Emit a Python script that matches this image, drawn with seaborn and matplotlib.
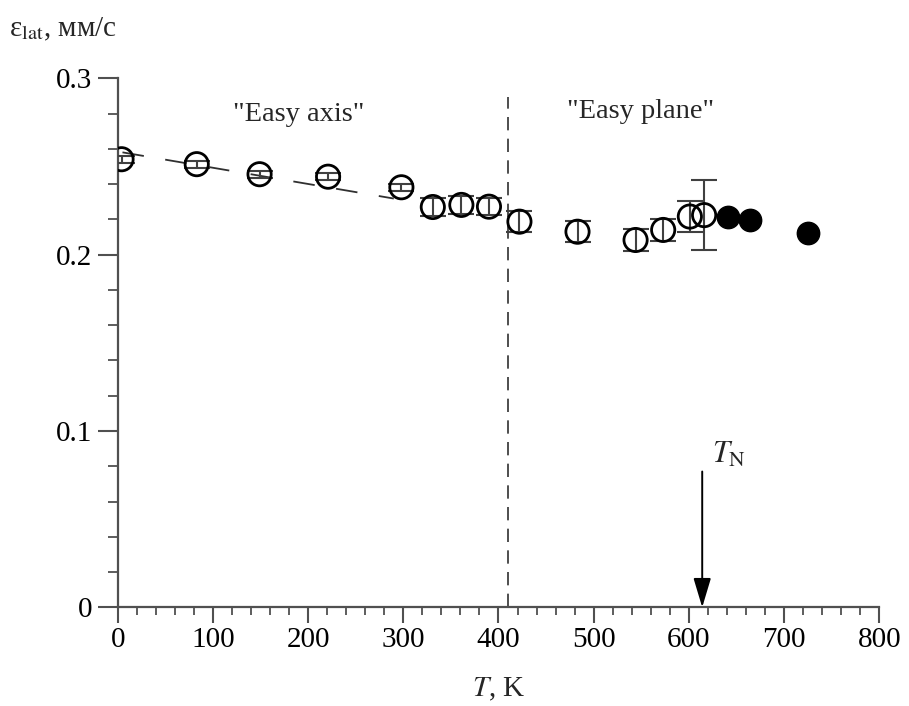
import matplotlib
matplotlib.use("Agg")
import matplotlib.pyplot as plt
import seaborn as sns
import pandas as pd
from matplotlib.ticker import MultipleLocator

# ---- data ----
T_open = [4, 83, 149, 221, 298, 331, 361, 390, 422, 483, 544, 573, 601, 616]
eps_open = [0.2541, 0.2513, 0.2456, 0.2442, 0.2382, 0.2270, 0.2282, 0.2272,
            0.2187, 0.2130, 0.2083, 0.2140, 0.2216, 0.2224]
err_open = [0.002, 0.002, 0.002, 0.002, 0.002, 0.005, 0.005, 0.005,
            0.006, 0.006, 0.006, 0.006, 0.009, 0.020]

T_filled = [641, 664, 725]
eps_filled = [0.2212, 0.2197, 0.2125]

trend_T = [5, 290]
trend_eps = [0.2580, 0.2318]

T_boundary = 410
T_N = 614

x_ticks = [0, 100, 200, 300, 400, 500, 600, 700, 800]
y_ticks = [0, 0.1, 0.2, 0.3]
y_ticklabels = ["0", "0.1", "0.2", "0.3"]

df_open = pd.DataFrame({"T": T_open, "eps": eps_open, "err": err_open})
df_filled = pd.DataFrame({"T": T_filled, "eps": eps_filled})
df_trend = pd.DataFrame({"T": trend_T, "eps": trend_eps})

# ---- style ----
sns.set_theme(style="ticks")
plt.rcParams["font.family"] = ["Liberation Serif", "DejaVu Serif"]
plt.rcParams["mathtext.fontset"] = "stix"

axcol = "#505050"
fig = plt.figure(figsize=(9.09, 7.06), dpi=100)
ax = fig.add_axes([0.1295, 0.1398, 0.9673 - 0.1295, 0.8891 - 0.1398])

# trend line (dashed)
sns.lineplot(data=df_trend, x="T", y="eps", ax=ax, color="#303030",
             linewidth=1.3, dashes=False, zorder=2)
ax.lines[-1].set_dashes((12, 12))

# vertical boundary line
ax.axvline(T_boundary, ymin=0, ymax=0.965, color="#303030", linewidth=1.2,
           dashes=(8, 5), zorder=1)

# error bars
ax.errorbar(df_open["T"], df_open["eps"], yerr=df_open["err"], fmt="none",
            ecolor="#404040", elinewidth=1.5, capsize=9.5, capthick=1.5, zorder=3)

# open circles
sns.scatterplot(data=df_open, x="T", y="eps", ax=ax, marker="o", s=280,
                facecolor="none", edgecolor="black", linewidth=2.0, zorder=4)
# filled circles
sns.scatterplot(data=df_filled, x="T", y="eps", ax=ax, marker="o", s=260,
                color="black", edgecolor="black", linewidth=1.0, zorder=4)

ax.set_xlim(0, 800)
ax.set_ylim(0, 0.3)
ax.set_xticks(x_ticks)
ax.set_yticks(y_ticks)
ax.set_yticklabels(y_ticklabels)
ax.xaxis.set_minor_locator(MultipleLocator(20))
ax.yaxis.set_minor_locator(MultipleLocator(0.02))

for s in ["top", "right"]:
    ax.spines[s].set_visible(False)
for s in ["left", "bottom"]:
    ax.spines[s].set_color(axcol)
    ax.spines[s].set_linewidth(1.6)

ax.tick_params(axis="x", which="major", direction="out", length=11.5, width=1.5,
               color=axcol, labelsize=21, pad=3, labelcolor="black")
ax.tick_params(axis="x", which="minor", direction="out", length=6, width=1.3,
               color=axcol)
ax.tick_params(axis="y", which="major", direction="out", length=14.5, width=1.5,
               color=axcol, labelsize=21, pad=4, labelcolor="black")
ax.tick_params(axis="y", which="minor", direction="out", length=7.5, width=1.3,
               color=axcol)

ax.set_xlabel(r"$T$, K", fontsize=21, labelpad=16)
ax.set_ylabel("")

# region labels
ax.text(190, 0.2795, '"Easy axis"', fontsize=20.5, ha="center", va="center")
ax.text(549, 0.2810, '"Easy plane"', fontsize=20.5, ha="center", va="center")

# T_N arrow
ax.annotate("", xy=(T_N, 0.0), xytext=(T_N, 0.077),
            arrowprops=dict(arrowstyle="-|>,head_length=1.5,head_width=0.45",
                            color="black", linewidth=1.4, shrinkA=0, shrinkB=0))
ax.text(642, 0.0860, r"$T_{\mathrm{N}}$", fontsize=22, ha="center", va="center")

# y-axis label at top left
fig.text(0.010, 0.958, r"ε$_{\mathrm{lat}}$, мм/с", fontsize=21,
         ha="left", va="center")

fig.savefig("out.png", dpi=100)
